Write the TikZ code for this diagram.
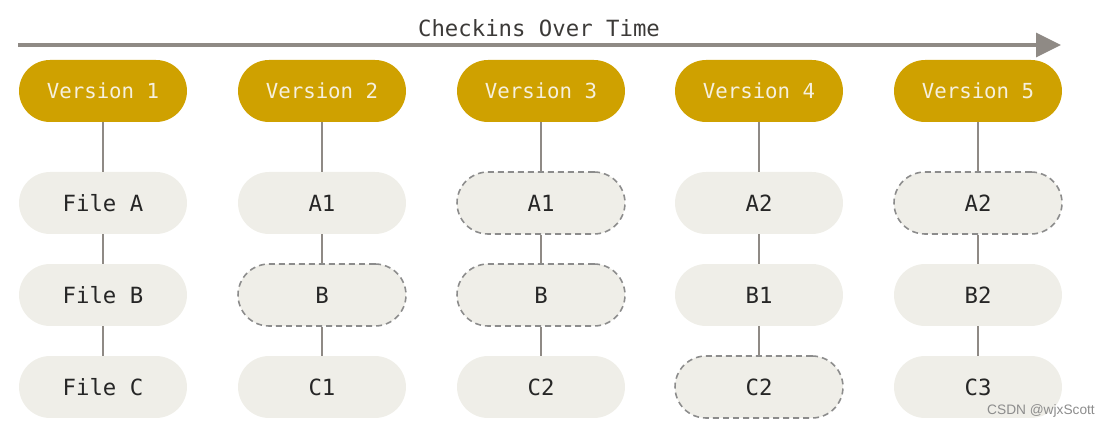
\documentclass[tikz,border=0pt]{standalone}
\usepackage{fontspec}
\setmonofont{DejaVu Sans Mono}
\newfontfamily\markfont{Liberation Sans}
\usepackage{tikz}
\usetikzlibrary{arrows.meta}

\definecolor{vgold}{RGB}{207,161,0}
\definecolor{vtext}{RGB}{246,240,222}
\definecolor{filefill}{RGB}{239,238,232}
\definecolor{linkgray}{RGB}{143,138,133}
\definecolor{dashgray}{RGB}{140,140,140}
\definecolor{titlegray}{RGB}{60,58,56}

\tikzset{
    pill/.style={rectangle, rounded corners=0.62cm, minimum width=3.36cm,
        minimum height=1.24cm, inner sep=0pt, text depth=0pt},
    versionbox/.style={pill, fill=vgold, text=vtext, text height=8.6pt,
        font=\ttfamily\fontsize{11.8}{14}\selectfont},
    filebox/.style={pill, fill=filefill, text=black!85, text height=9.2pt,
        font=\ttfamily\fontsize{12.7}{15}\selectfont},
    ghostbox/.style={filebox, draw=dashgray, line width=0.9pt,
        dash pattern=on 3.4pt off 2.3pt},
    link/.style={draw=linkgray, line width=1.1pt}
}

\begin{document}
\begin{tikzpicture}[x=0.02cm, y=-0.02cm]
    \useasboundingbox (0,0) rectangle (1107,428);

    % Draw the time line
    \coordinate (tstart) at (18,45);
    \coordinate (tend) at (1061,45);
    \draw[linkgray, line width=1.8pt, -{Triangle[length=0.5cm, width=0.48cm]}] (tstart) -- (tend);
    \node[text=titlegray, font=\ttfamily\fontsize{12.7}{15}\selectfont] (title) at (539,28) {Checkins Over Time};

    % Versions and their files (style of each file box given in the list)
    \foreach \i/\x/\fa/\fb/\fc/\sa/\sb/\sc in {
        1/103/File A/File B/File C/filebox/filebox/filebox,
        2/322/A1/B/C1/filebox/ghostbox/filebox,
        3/541/A1/B/C2/ghostbox/ghostbox/filebox,
        4/759/A2/B1/C2/filebox/filebox/ghostbox,
        5/978/A2/B2/C3/ghostbox/filebox/filebox} {
        \node[versionbox] (v\i) at (\x,91) {Version \i};
        \node[\sa] (a\i) at (\x,203) {\fa};
        \node[\sb] (b\i) at (\x,295) {\fb};
        \node[\sc] (c\i) at (\x,387) {\fc};
        \draw[link] (v\i) -- (a\i);
        \draw[link] (a\i) -- (b\i);
        \draw[link] (b\i) -- (c\i);
    }

    % Watermark
    \node[text=black!45, font=\markfont\fontsize{7.8}{9}\selectfont] (mark) at (1041,411) {CSDN @wjxScott};
\end{tikzpicture}
\end{document}
